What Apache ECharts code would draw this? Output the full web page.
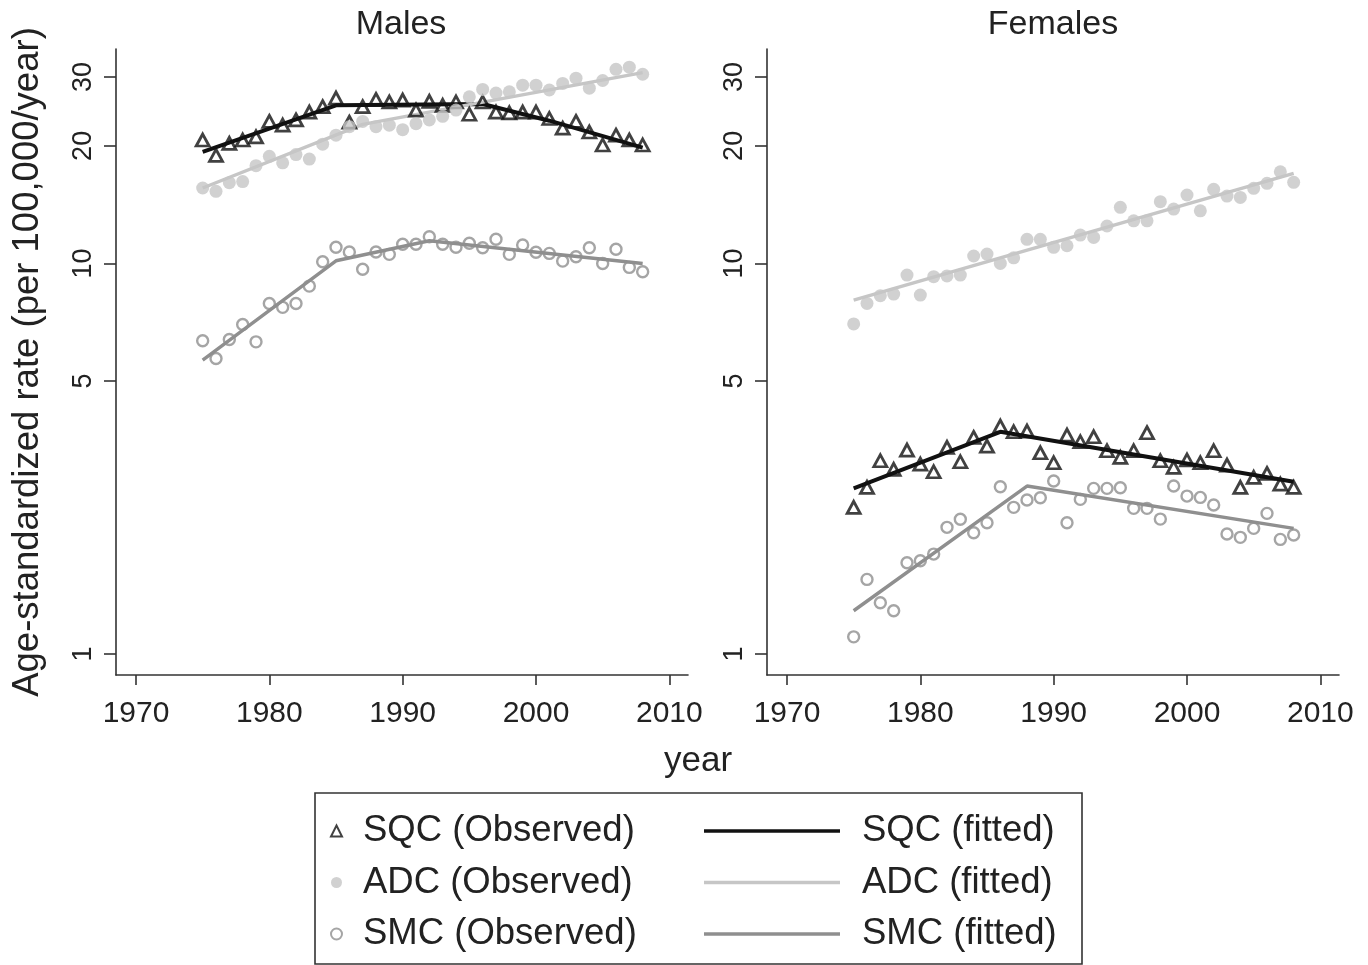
<!DOCTYPE html>
<html><head><meta charset="utf-8">
<script src="https://cdn.jsdelivr.net/npm/echarts@6/dist/echarts.min.js"></script>
<style>html,body{margin:0;padding:0;background:#fff}#c{width:1368px;height:965px}</style>
</head><body><div id="c"></div>
<script>
// ---- data ----
const years = [1975,1976,1977,1978,1979,1980,1981,1982,1983,1984,1985,1986,1987,1988,1989,1990,1991,1992,1993,1994,1995,1996,1997,1998,1999,2000,2001,2002,2003,2004,2005,2006,2007,2008];
const maleSQC = [20.7,18.9,20.3,20.7,21.1,23.1,22.6,23.3,24.4,25.2,26.5,23.0,25.2,26.3,25.9,26.2,24.7,26.0,25.4,25.9,24.1,25.9,24.4,24.3,24.4,24.4,23.5,22.2,23.1,21.7,20.1,21.3,20.7,20.1];
const maleADC = [15.6,15.3,16.1,16.2,17.8,18.8,18.1,19.0,18.5,20.2,21.3,22.4,23.1,22.4,22.6,22.0,22.8,23.3,23.8,24.7,26.7,27.9,27.3,27.5,28.6,28.6,27.8,28.9,29.8,28.1,29.4,31.4,31.8,30.5];
const maleSMC = [6.34,5.71,6.39,6.98,6.30,7.90,7.72,7.90,8.75,10.1,11.0,10.7,9.66,10.7,10.55,11.2,11.2,11.7,11.2,11.0,11.26,10.97,11.53,10.55,11.15,10.68,10.61,10.14,10.40,10.97,10.0,10.87,9.77,9.52];
const femaleSQC = [2.375,2.672,3.126,2.971,3.329,3.064,2.929,3.382,3.107,3.587,3.408,3.834,3.708,3.724,3.276,3.089,3.636,3.496,3.600,3.315,3.189,3.315,3.687,3.126,3.006,3.139,3.089,3.315,3.046,2.672,2.834,2.901,2.724,2.672];
const femaleADC = [7.0,7.9,8.27,8.35,9.34,8.30,9.25,9.29,9.34,10.45,10.57,10.0,10.34,11.53,11.53,11.0,11.1,11.82,11.66,12.47,13.92,12.86,12.86,14.39,13.78,14.97,13.64,15.48,14.88,14.76,15.57,16.04,17.17,16.13];
const femaleSMC = [1.107,1.553,1.353,1.291,1.713,1.733,1.803,2.111,2.213,2.044,2.169,2.682,2.375,2.479,2.513,2.773,2.169,2.489,2.656,2.656,2.666,2.361,2.361,2.216,2.693,2.538,2.518,2.407,2.029,1.99,2.098,2.292,1.966,2.017];

// fitted (joinpoint) lines: knot years and values
const maleSQCFitYears = [1975,1985,1996,2001,2008];
const maleSQCFit = [19.3,25.4,25.6,23.2,19.8];
const maleADCFitYears = [1975,1987,2008];
const maleADCFit = [15.6,22.7,30.8];
const maleSMCFitYears = [1975,1985,1992,2008];
const maleSMCFit = [5.66,10.16,11.43,10.0];
const femaleSQCFitYears = [1975,1986,2008];
const femaleSQCFit = [2.656,3.708,2.762];
const femaleADCFitYears = [1975,2008];
const femaleADCFit = [8.06,17.0];
const femaleSMCFitYears = [1975,1988,2008];
const femaleSMCFit = [1.291,2.693,2.098];

const xTicks = [1970,1980,1990,2000,2010];
const yTicks = [1,5,10,20,30];
const panelTitles = ['Males','Females'];

// ---- styling ----
const FONT = "'Liberation Sans',Arial,sans-serif";
const TXT = '#222';
const AX = '#333';
const C_SQC = '#111111', C_ADC = '#c6c6c6', C_SMC = '#8f8f8f';

const pair = (xs, ys) => xs.map((x, i) => [x, ys[i]]);

function xAxis(gi) {
  return {
    gridIndex: gi, type: 'value', min: 1968.5, max: 2011.4,
    axisLine: {show: true, lineStyle: {color: AX, width: 1.6}},
    axisTick: {show: true, customValues: xTicks, length: 10, lineStyle: {color: AX, width: 1.6}},
    axisLabel: {customValues: xTicks, formatter: v => String(v), fontSize: 30, fontFamily: FONT, color: TXT, margin: 24},
    splitLine: {show: false}
  };
}
function yAxis(gi) {
  const a = {
    gridIndex: gi, type: 'log', logBase: 10, min: 0.884, max: 35.4,
    axisLine: {show: true, lineStyle: {color: AX, width: 1.6}},
    axisTick: {show: true, customValues: yTicks, length: 12, lineStyle: {color: AX, width: 1.6}},
    axisLabel: {customValues: yTicks, formatter: v => String(v), rotate: 90, fontSize: 27, fontFamily: FONT, color: TXT, margin: 19},
    splitLine: {show: false}, minorTick: {show: false}
  };
  if (gi === 0) {
    a.name = 'Age-standardized rate (per 100,000/year)';
    a.nameLocation = 'middle';
    a.nameGap = 70;
    a.nameTextStyle = {fontSize: 36.5, fontFamily: FONT, color: TXT};
  }
  return a;
}

function obs(name, gi, vals) {
  const base = {name, type: 'scatter', xAxisIndex: gi, yAxisIndex: gi, data: pair(years, vals), silent: true};
  if (name.startsWith('SQC')) {
    base.symbol = 'triangle'; base.symbolSize = [13, 12];
    base.itemStyle = {color: 'rgba(255,255,255,0)', borderColor: C_SQC, borderWidth: 2.8};
  } else if (name.startsWith('ADC')) {
    base.symbol = 'circle'; base.symbolSize = 13;
    base.itemStyle = {color: C_ADC};
  } else {
    base.symbol = 'circle'; base.symbolSize = 11;
    base.itemStyle = {color: 'rgba(255,255,255,0)', borderColor: C_SMC, borderWidth: 2.4};
  }
  return base;
}
function fit(name, gi, xs, ys, color, w) {
  return {name, type: 'line', xAxisIndex: gi, yAxisIndex: gi, data: pair(xs, ys),
    symbol: 'none', showSymbol: false, silent: true, z: 1,
    lineStyle: {color, width: w}, itemStyle: {color}};
}

const option = {
  animation: false,
  backgroundColor: '#fff',
  title: [
    {text: panelTitles[0], left: 401, top: 8, padding: 0, textAlign: 'center', textStyle: {fontSize: 34, fontWeight: 'normal', fontFamily: FONT, color: TXT}},
    {text: panelTitles[1], left: 1053, top: 8, padding: 0, textAlign: 'center', textStyle: {fontSize: 34, fontWeight: 'normal', fontFamily: FONT, color: TXT}},
    {text: 'year', left: 698, top: 744, padding: 0, textAlign: 'center', textStyle: {fontSize: 35, fontWeight: 'normal', fontFamily: FONT, color: TXT}}
  ],
  grid: [
    {left: 116, top: 49, width: 572, height: 626, containLabel: false, outerBoundsMode: 'none'},
    {left: 767, top: 49, width: 572, height: 626, containLabel: false, outerBoundsMode: 'none'}
  ],
  xAxis: [xAxis(0), xAxis(1)],
  yAxis: [yAxis(0), yAxis(1)],
  legend: [
    {orient: 'vertical', left: 330, top: 809, padding: 0, itemWidth: 11, itemHeight: 11, itemGap: 7.5, selectedMode: false,
     data: ['SQC (Observed)', 'ADC (Observed)', 'SMC (Observed)'],
     textStyle: {fontSize: 36.5, lineHeight: 44, fontFamily: FONT, color: TXT, padding: [0, 0, 0, 16]}},
    {orient: 'vertical', left: 704, top: 809, padding: 0, itemWidth: 136, itemHeight: 3.5, itemGap: 7.5, selectedMode: false,
     data: [{name: 'SQC (fitted)', icon: 'rect'}, {name: 'ADC (fitted)', icon: 'rect'}, {name: 'SMC (fitted)', icon: 'rect'}],
     textStyle: {fontSize: 36.5, lineHeight: 44, fontFamily: FONT, color: TXT, padding: [0, 0, 0, 17]}}
  ],
  graphic: [
    {type: 'rect', shape: {x: 315, y: 793, width: 767, height: 171}, style: {fill: 'none', stroke: AX, lineWidth: 1.6}, silent: true}
  ],
  series: [
    fit('SQC (fitted)', 0, maleSQCFitYears, maleSQCFit, C_SQC, 4),
    fit('ADC (fitted)', 0, maleADCFitYears, maleADCFit, C_ADC, 3.4),
    fit('SMC (fitted)', 0, maleSMCFitYears, maleSMCFit, C_SMC, 3.4),
    fit('SQC (fitted)', 1, femaleSQCFitYears, femaleSQCFit, C_SQC, 4),
    fit('ADC (fitted)', 1, femaleADCFitYears, femaleADCFit, C_ADC, 3.4),
    fit('SMC (fitted)', 1, femaleSMCFitYears, femaleSMCFit, C_SMC, 3.4),
    obs('SQC (Observed)', 0, maleSQC),
    obs('ADC (Observed)', 0, maleADC),
    obs('SMC (Observed)', 0, maleSMC),
    obs('SQC (Observed)', 1, femaleSQC),
    obs('ADC (Observed)', 1, femaleADC),
    obs('SMC (Observed)', 1, femaleSMC)
  ]
};
const chart = echarts.init(document.getElementById('c'), null, {renderer: 'canvas'});
chart.setOption(option);
</script>
</body></html>
